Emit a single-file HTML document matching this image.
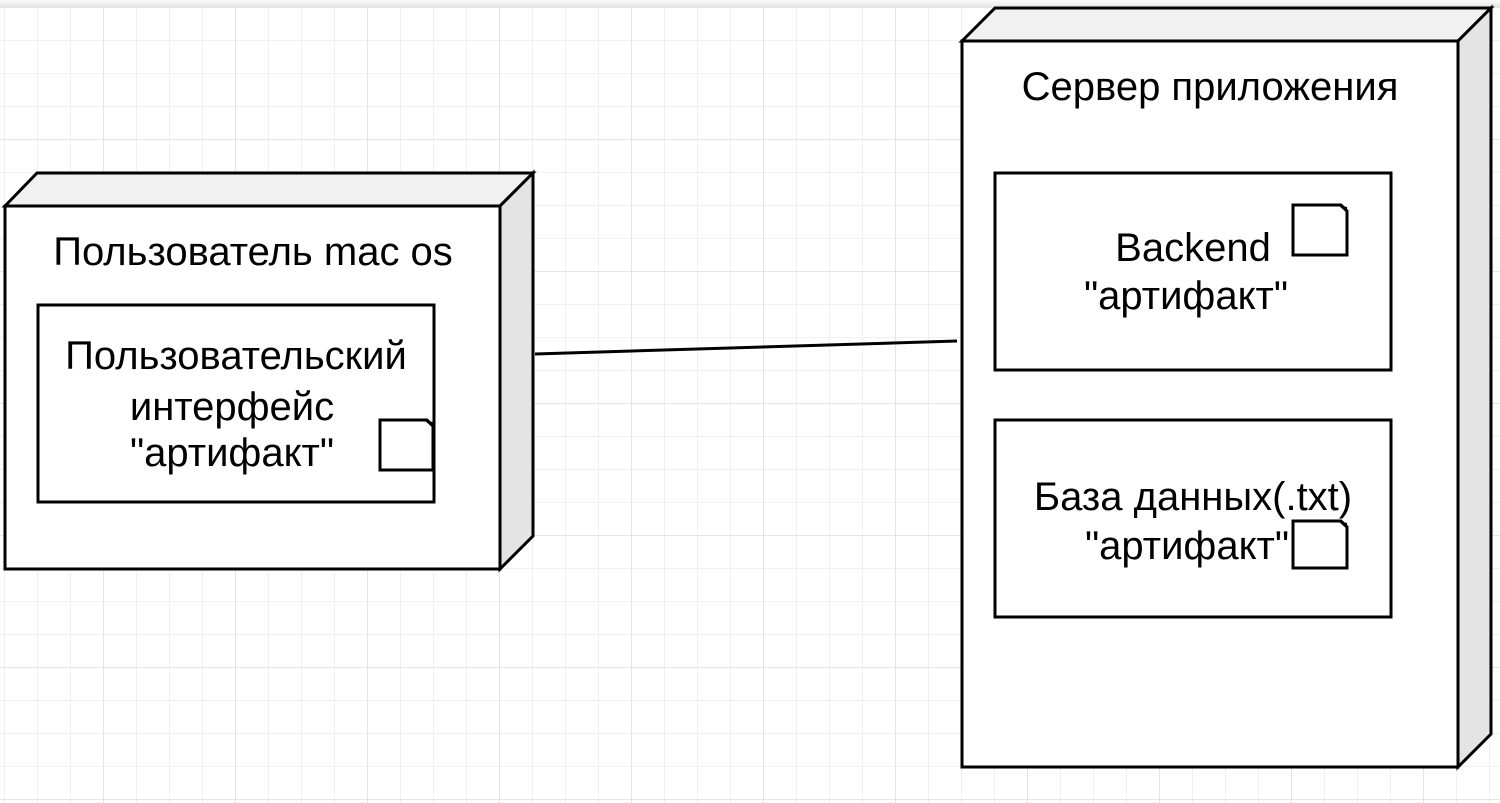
<!DOCTYPE html>
<html><head><meta charset="utf-8"><style>html,body{margin:0;padding:0;background:#fff}svg{display:block}</style></head>
<body>
<svg width="1500" height="803" xmlns="http://www.w3.org/2000/svg" font-family="Liberation Sans, sans-serif" font-size="40" text-anchor="middle">
<defs>
<pattern id="g" x="4" y="7" width="33" height="33" patternUnits="userSpaceOnUse"><path d="M0 0H33M0 0V33" stroke="#ececec" stroke-width="1.5" fill="none"/></pattern>
<pattern id="G" x="103" y="7" width="132" height="132" patternUnits="userSpaceOnUse"><path d="M0 0H132M0 0V132" stroke="#d4d4d4" stroke-width="1" fill="none"/></pattern>
<linearGradient id="tb" x1="0" y1="0" x2="0" y2="1"><stop offset="0" stop-color="#fafafa"/><stop offset="1" stop-color="#e2e2e2"/></linearGradient>
</defs>
<rect width="1500" height="803" fill="#fff"/>
<rect y="8" width="1500" height="795" fill="url(#g)"/>
<rect y="8" width="1500" height="795" fill="url(#G)"/>
<rect width="1500" height="8" fill="url(#tb)"/>
<g stroke="#000" stroke-width="3" stroke-linejoin="miter">
<polygon points="5,206 37,173 533,173 500,206" fill="#f1f1f1"/>
<polygon points="500,206 533,173 533,536 500,569" fill="#e4e4e4"/>
<rect x="5" y="206" width="495" height="363" fill="#fff"/>
<rect x="38" y="305" width="396" height="197" fill="#fff"/>
<polygon points="962,41 995,8 1491,8 1458,41" fill="#f1f1f1"/>
<polygon points="1458,41 1491,8 1491,734 1458,767" fill="#e4e4e4"/>
<rect x="962" y="41" width="496" height="726" fill="#fff"/>
<rect x="995" y="173" width="396" height="197" fill="#fff"/>
<rect x="995" y="420" width="396" height="197" fill="#fff"/>
<line x1="535" y1="354" x2="957" y2="341"/>
</g>
<g fill="#000" stroke="none">
<text x="253" y="265">Пользователь mac os</text>
<text x="1210" y="100">Сервер приложения</text>
<text x="236" y="369">Пользовательский</text>
<text x="232" y="420">интерфейс</text>
<text x="232" y="466">"артифакт"</text>
<text x="1193" y="261">Backend</text>
<text x="1186" y="309">"артифакт"</text>
<text x="1193" y="510">База данных(.txt)</text>
<text x="1187" y="559">"артифакт"</text>
</g>
<g stroke="#000" stroke-width="3" fill="#fff">
<path d="M380 420H427L433 426V470H380Z"/>
<path d="M1293 205H1341L1347 211V255H1293Z"/>
<path d="M1293 521H1341L1347 527V568H1293Z"/>
</g>
<g fill="#000"><path d="M424 420L433 428L433 422Z"/><path d="M1338 205L1347 213L1347 207Z"/><path d="M1338 521L1347 529L1347 523Z"/></g>
</svg>
</body></html>
